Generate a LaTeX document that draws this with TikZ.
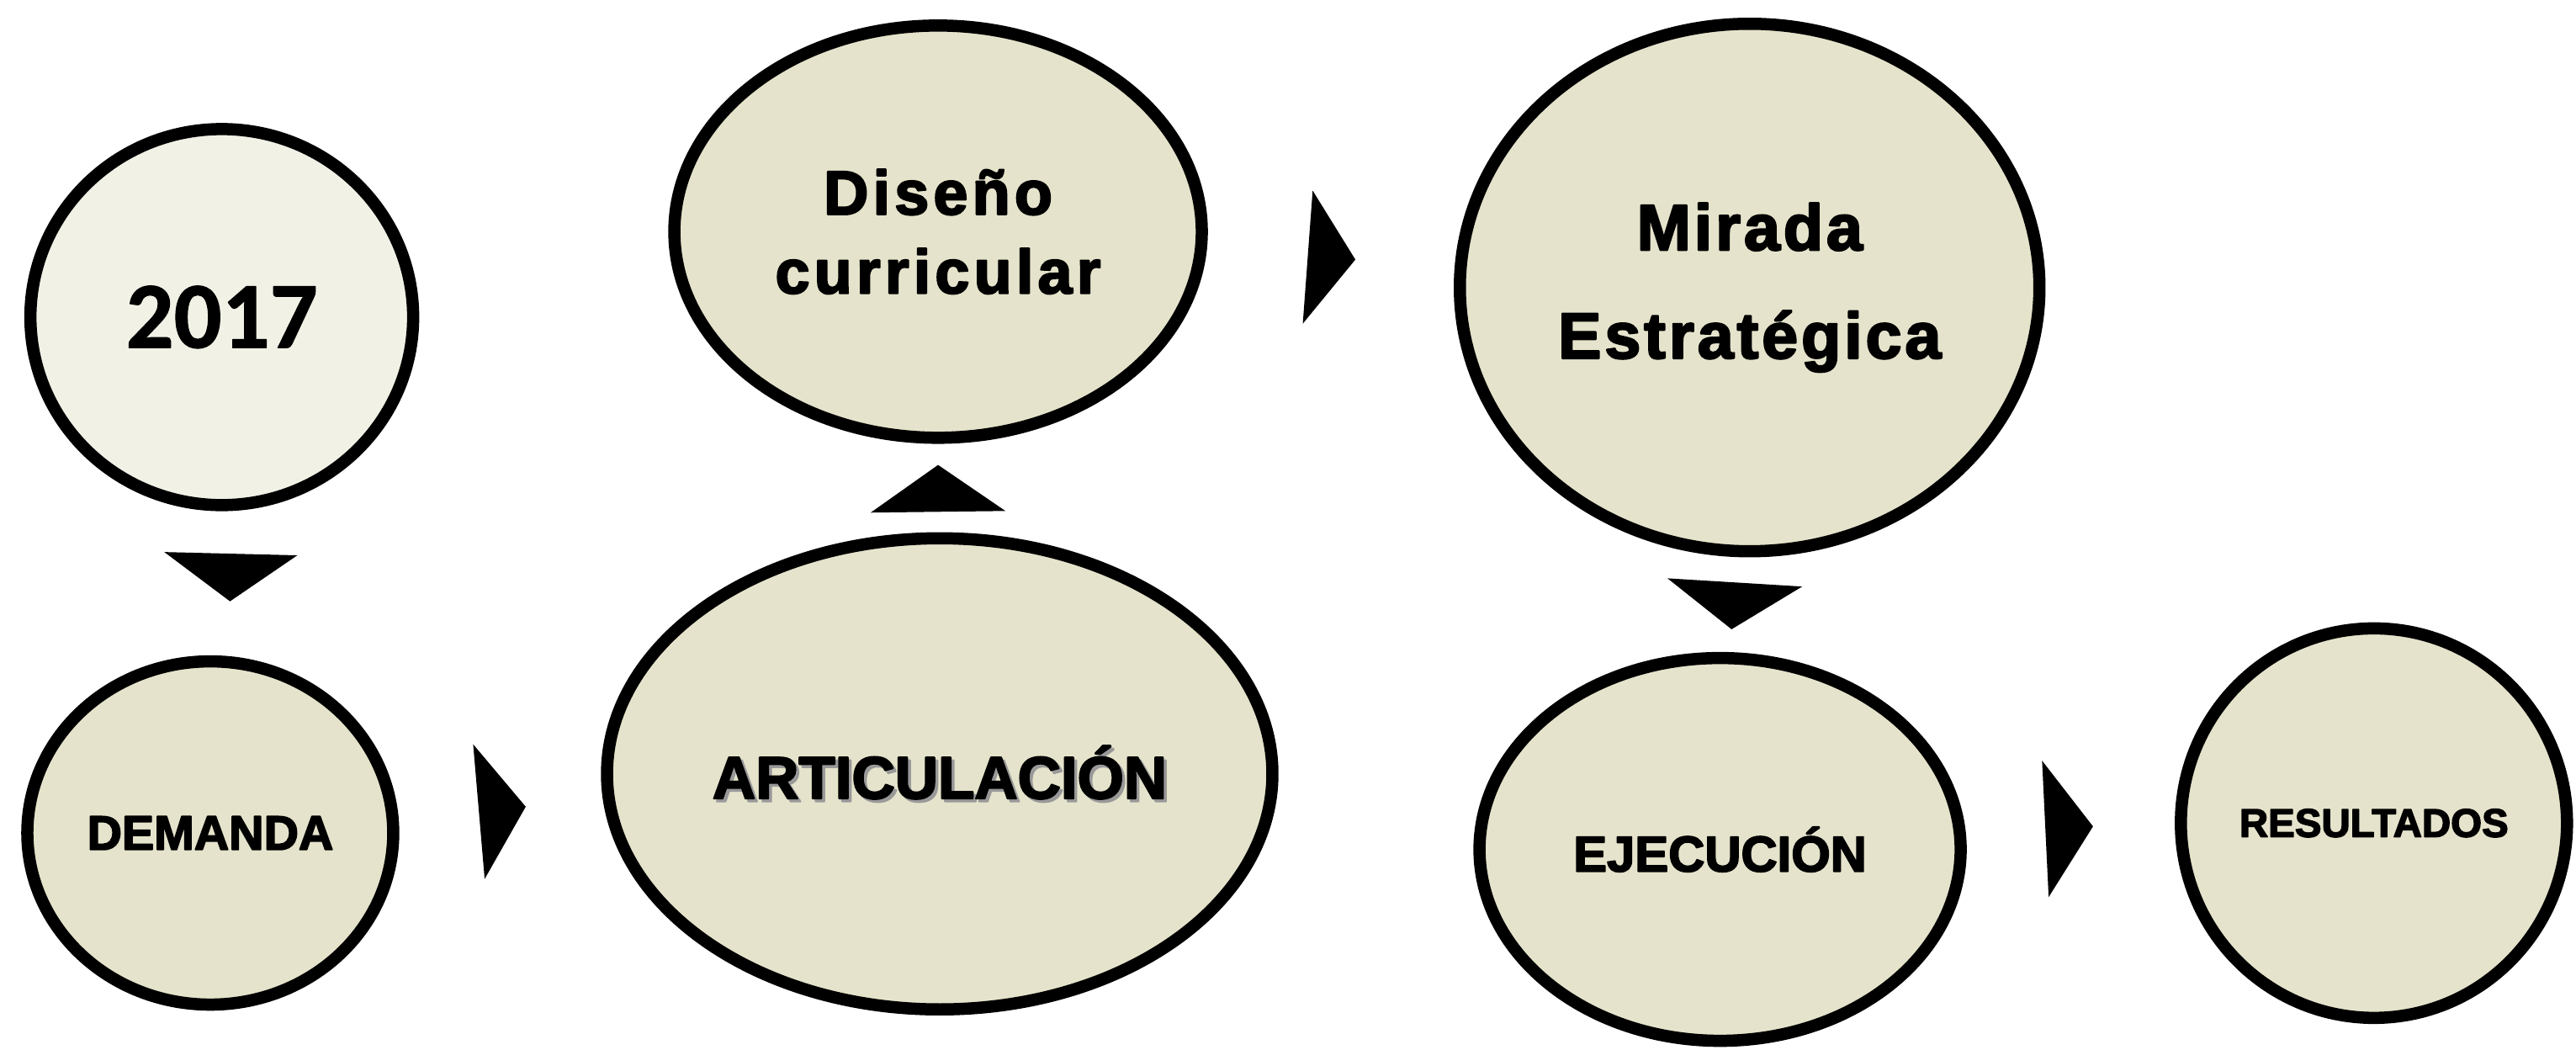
\documentclass[tikz,border=0pt]{standalone}
\usepackage{fontspec}
\setmainfont{Liberation Sans}[BoldFeatures={FakeBold=3}]
\newfontfamily\yearfont{Carlito}[BoldFeatures={FakeBold=1}]
\usetikzlibrary{shapes.geometric}
\definecolor{bubblefill}{HTML}{E5E3CB}
\definecolor{yearfill}{HTML}{F1F1E6}
\newcommand{\shadowtxt}[1]{\makebox[0pt][l]{\hspace{1pt}\raisebox{-1pt}{\color{black!40}#1}}#1}
\tikzset{bubble/.style={ellipse, draw=black, line width=1.45mm, fill=bubblefill, inner sep=0pt, align=center}}
\begin{document}
\begin{tikzpicture}[x=0.1953mm, y=-0.1953mm, line join=round]
			\useasboundingbox (0,0) rectangle (1568,639);
			% elipses
			\node[bubble, fill=yearfill, minimum width=45.5mm, minimum height=44.7mm, font=\yearfont\bfseries\fontsize{32pt}{38pt}\selectfont] (year) at (135,193) {2017};
			\node[bubble, minimum width=43.5mm, minimum height=40.8mm, font=\bfseries\fontsize{16.3pt}{20pt}\selectfont] (demanda) at (128,507) {DEMANDA};
			\node[bubble, minimum width=62.7mm, minimum height=49mm, font=\bfseries\fontsize{21pt}{26.7pt}\selectfont\addfontfeatures{LetterSpace=7}] (diseno) at (571,141) {Diseño\\curricular};
			\node[bubble, minimum width=79.1mm, minimum height=56mm, font=\bfseries\fontsize{20.2pt}{24pt}\selectfont] (artic) at (572,471) {\shadowtxt{ARTICULACIÓN}};
			\node[bubble, minimum width=68.9mm, minimum height=62.7mm, font=\bfseries\fontsize{22pt}{36.6pt}\selectfont\addfontfeatures{LetterSpace=5}] (mirada) at (1065,175) {Mirada\\Estratégica};
			\node[bubble, minimum width=57.2mm, minimum height=45.5mm, font=\bfseries\fontsize{17pt}{20pt}\selectfont] (ejec) at (1047,517) {EJECUCIÓN};
			\node[bubble, minimum width=45.9mm, minimum height=46.3mm, font=\bfseries\fontsize{13.5pt}{16pt}\selectfont] (result) at (1445,501) {RESULTADOS};
			% flechas
			\fill (100,336) -- (181,338) -- (140,366) -- cycle;
			\fill (530,312) -- (612,311) -- (571,283) -- cycle;
			\fill (288,453) -- (320,491) -- (295,535) -- cycle;
			\fill (799,116) -- (825,158) -- (793,197) -- cycle;
			\fill (1015,352) -- (1097,357) -- (1054,383) -- cycle;
			\fill (1243,463) -- (1274,503) -- (1247,546) -- cycle;
		\end{tikzpicture}
\end{document}
